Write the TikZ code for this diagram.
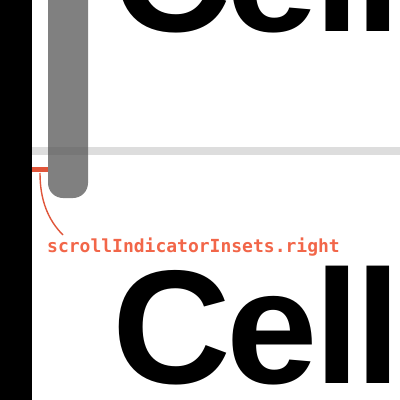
\documentclass[tikz,border=0pt]{standalone}
\usepackage{fontspec}
\newfontfamily\cellfont[LetterSpace=-2.5]{Liberation Sans Bold}
\newfontfamily\monofont{DejaVu Sans Mono Bold}
\definecolor{barblack}{HTML}{000000}
\definecolor{sepgray}{HTML}{DDDDDD}
\definecolor{indgray}{HTML}{525252}
\definecolor{insetred}{HTML}{E0553A}
\definecolor{labelred}{HTML}{F26649}
\tikzset{
  celltext/.style={inner sep=0pt, anchor=base west, xscale=1.015, font=\cellfont\fontsize{162}{162}\selectfont, text=black},
  insetlabel/.style={inner sep=0pt, anchor=base west, font=\monofont\fontsize{18}{18}\selectfont, text=labelred},
  leader/.style={draw=insetred, line width=1.4pt},
}
\begin{document}
\begin{tikzpicture}[x=1pt,y=-1pt]
\useasboundingbox (0,0) rectangle (400,400);
\fill[white] (0,0) rectangle (400,400);
% cell texts
\node[celltext] (celltop) at (112,31) {Cell};
\node[celltext] (cellbottom) at (112,383) {Cell};
% separator
\fill[sepgray] (32,147) rectangle (400,155);
% scroll indicator
\fill[indgray, opacity=0.735, rounded corners=15pt] (48,-30) rectangle (88,198);
% black bar
\fill[barblack] (0,0) rectangle (32,400);
% inset marker
\fill[insetred] (32,167) rectangle (48,172);
\coordinate (lstart) at (40,173);
\node[insetlabel] (lbl) at (47,252) {scrollIndicatorInsets.right};
\coordinate (lend) at (63,235);
\draw[leader] (lstart) .. controls (40,200) and (48,220) .. (lend);
\end{tikzpicture}
\end{document}
